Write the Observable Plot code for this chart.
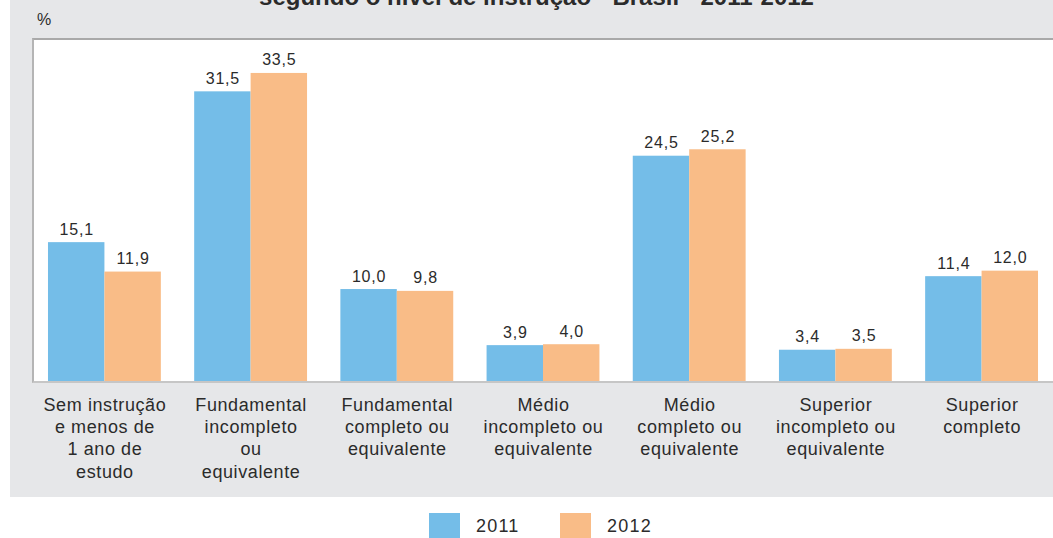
<!DOCTYPE html>
<html>
<head>
<meta charset="utf-8">
<script src="https://cdn.jsdelivr.net/npm/d3@7"></script>
<script src="https://cdn.jsdelivr.net/npm/@observablehq/plot@0.6"></script>
<style>
  body { margin:0; width:1053px; height:538px; overflow:hidden; position:relative; background:#fff;
         font-family:"Liberation Sans", Arial, sans-serif; color:#2b2b2b; }
  #panel { position:absolute; left:10px; top:0; width:1043px; height:497px; background:#e6e7e9; }
  #plotbg { position:absolute; left:32px; top:38px; width:1021px; height:345px; background:#fff;
            border-top:2px solid #a9a9a9; border-left:2px solid #b5b5b5; border-bottom:2px solid #c6c6c6;
            box-sizing:border-box; }
  #title { position:absolute; left:0; width:1073px; top:-15px; text-align:center; font-family:"Liberation Sans Narrow", "Arial Narrow", sans-serif;
           font-weight:bold; font-size:24px; line-height:24px; color:#2b2b2b; white-space:nowrap; }
  #unit { position:absolute; left:37px; top:11px; font-size:16px; font-family:"Liberation Sans Narrow", "Arial Narrow", sans-serif; color:#2b2b2b; }
  #chart { position:absolute; left:0; top:0; }
  #legend { position:absolute; top:513px; left:0; width:1053px; height:25px; }
  .sw { position:absolute; top:0; width:31px; height:25px; }
  .lt { position:absolute; top:2px; font-size:18px; letter-spacing:1.2px; color:#2b2b2b; line-height:22px; }
  .vlab { letter-spacing:0.8px; }
  .clab { letter-spacing:0.6px; }
</style>
</head>
<body>
<div id="panel"></div>
<div id="plotbg"></div>
<div id="title">segundo o nível de instrução - Brasil - 2011-2012</div>
<div id="unit">%</div>
<div id="chart"></div>
<div id="legend"></div>
<script>
const categories = [
  "Sem instrução\ne menos de\n1 ano de\nestudo",
  "Fundamental\nincompleto\nou\nequivalente",
  "Fundamental\ncompleto ou\nequivalente",
  "Médio\nincompleto ou\nequivalente",
  "Médio\ncompleto ou\nequivalente",
  "Superior\nincompleto ou\nequivalente",
  "Superior\ncompleto"
];
const years = ["2011", "2012"];
const values2011 = [15.1, 31.5, 10.0, 3.9, 24.5, 3.4, 11.4];
const values2012 = [11.9, 33.5, 9.8, 4.0, 25.2, 3.5, 12.0];
const colors = ["#74bde8", "#f9bc87"];

const data = [];
categories.forEach((c, i) => {
  data.push({cat: c, year: years[0], value: values2011[i]});
  data.push({cat: c, year: years[1], value: values2012[i]});
});
const fmt = v => v.toFixed(1).replace(".", ",");

const chart = Plot.plot({
  width: 1053,
  height: 497,
  marginLeft: 33,
  marginRight: 0,
  marginTop: 38,
  marginBottom: 116,
  style: {background: "transparent", overflow: "visible", fontFamily: "'Liberation Sans', Arial, sans-serif", color: "#2b2b2b"},
  fx: {domain: categories, paddingInner: 0.228, paddingOuter: 0.1025, round: false, axis: null},
  x: {domain: years, padding: 0, round: false, axis: null},
  y: {domain: [0, 37.3], axis: null},
  color: {domain: years, range: colors},
  marks: [
    Plot.barY(data, {fx: "cat", x: "year", y: "value", fill: "year"}),
    Plot.text(data, {fx: "cat", x: "year", y: "value", text: d => fmt(d.value), lineAnchor: "bottom", dy: -8,
                     fontSize: 16, fill: "#2b2b2b", className: "vlab"}),
    Plot.text(categories, {fx: d => d, text: d => d, frameAnchor: "bottom", lineAnchor: "top", dy: 14,
                           fontSize: 18, lineHeight: 1.23, fill: "#2b2b2b", className: "clab"})
  ]
});
document.getElementById("chart").appendChild(chart);

const legend = document.getElementById("legend");
const legPos = [[429, 476], [560, 607]];
years.forEach((y, i) => {
  const sw = document.createElement("div");
  sw.className = "sw"; sw.style.left = legPos[i][0] + "px"; sw.style.background = colors[i];
  legend.appendChild(sw);
  const t = document.createElement("div");
  t.className = "lt"; t.style.left = legPos[i][1] + "px"; t.textContent = y;
  legend.appendChild(t);
});
</script>
</body>
</html>
